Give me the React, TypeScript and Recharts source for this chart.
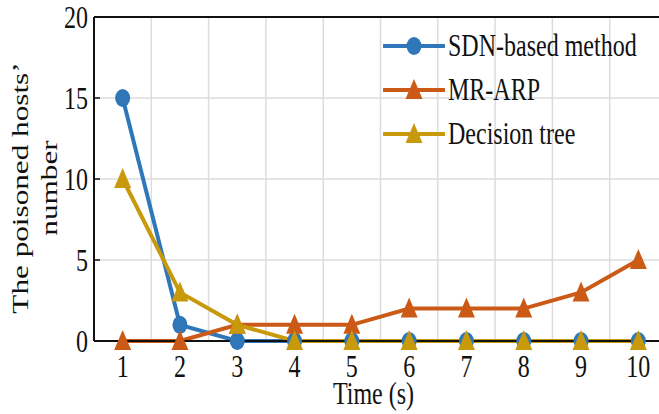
import React from 'react';
import {
  LineChart,
  Line,
  XAxis,
  YAxis,
  CartesianGrid,
  ReferenceLine,
} from 'recharts';

const times = [1, 2, 3, 4, 5, 6, 7, 8, 9, 10];
const sdnValues = [15, 1, 0, 0, 0, 0, 0, 0, 0, 0];
const mrArpValues = [0, 0, 1, 1, 1, 2, 2, 2, 3, 5];
const treeValues = [10, 3, 1, 0, 0, 0, 0, 0, 0, 0];
const yTicks = [0, 5, 10, 15, 20];
const gridXs = [1.5, 2.5, 3.5, 4.5, 5.5, 6.5, 7.5, 8.5, 9.5, 10.5];

const FONT = '"Liberation Serif", "DejaVu Serif", serif';
const STRETCH = 1.3;

const series = [
  { key: 'sdn', name: 'SDN-based method', color: '#2f77b8', marker: 'circle' },
  { key: 'mrarp', name: 'MR-ARP', color: '#cc5a17', marker: 'triangle' },
  { key: 'tree', name: 'Decision tree', color: '#c8990a', marker: 'triangle' },
];

const data = times.map((t, i) => ({
  time: t,
  sdn: sdnValues[i],
  mrarp: mrArpValues[i],
  tree: treeValues[i],
}));

const Marker = ({ cx, cy, color, kind }: any) => {
  if (cx == null || cy == null) return null;
  if (kind === 'circle') {
    return <ellipse cx={cx} cy={cy} rx={7.5} ry={9} fill={color} />;
  }
  return (
    <polygon
      points={`${cx},${cy - 11} ${cx - 8.5},${cy + 9} ${cx + 8.5},${cy + 9}`}
      fill={color}
    />
  );
};

const XTick = ({ x, y, payload }: any) => (
  <g transform={`translate(${x},${y + 36}) scale(1,${STRETCH})`}>
    <text x={0} y={0} textAnchor="middle" fontSize={24} fontFamily={FONT} fill="#111">
      {payload.value}
    </text>
  </g>
);

const YTick = ({ x, y, payload }: any) => (
  <g>
    <line x1={x} x2={x + 6} y1={y} y2={y} stroke="#111" strokeWidth={1.5} />
    <g transform={`translate(${x - 6},${y + 11}) scale(1,${STRETCH})`}>
      <text x={0} y={0} textAnchor="end" fontSize={24} fontFamily={FONT} fill="#111">
        {payload.value}
      </text>
    </g>
  </g>
);

const LegendBox = () => (
  <div style={{ position: 'absolute', left: 383, top: 24, fontFamily: FONT }}>
    {series.map((s) => (
      <div key={s.key} style={{ display: 'flex', alignItems: 'center', height: 44 }}>
        <svg width={62} height={30}>
          <line x1={1} x2={61} y1={15} y2={15} stroke={s.color} strokeWidth={4} strokeLinecap="round" />
          <Marker cx={31} cy={15} color={s.color} kind={s.marker} />
        </svg>
        <span
          style={{
            marginLeft: 3,
            fontSize: 24,
            color: '#111',
            display: 'inline-block',
            transform: `scaleY(${STRETCH})`,
            whiteSpace: 'nowrap',
          }}
        >
          {s.name}
        </span>
      </div>
    ))}
  </div>
);

export default function App() {
  return (
    <div
      style={{
        position: 'absolute',
        left: 0,
        top: 0,
        width: 659,
        height: 414,
        overflow: 'hidden',
        background: '#fff',
      }}
    >
      <LineChart
        width={680}
        height={414}
        data={data}
        margin={{ top: 17, right: 13, left: 0, bottom: 0 }}
      >
        <CartesianGrid vertical={false} stroke="#dcdcdc" strokeWidth={1.5} />
        {gridXs.map((gx) => (
          <ReferenceLine key={gx} x={gx} stroke="#dcdcdc" strokeWidth={1.5} />
        ))}
        <ReferenceLine y={20} stroke="#111" strokeWidth={2} />
        <XAxis
          dataKey="time"
          type="number"
          domain={[0.5, 10.5]}
          ticks={times}
          height={73}
          tickSize={0}
          tickMargin={0}
          tickLine={false}
          axisLine={{ stroke: '#111', strokeWidth: 2 }}
          tick={<XTick />}
          interval={0}
          label={({ viewBox }: any) => (
            <g transform={`translate(${viewBox.x + viewBox.width / 2 - 7},${viewBox.y + 63}) scale(1,${STRETCH})`}>
              <text x={0} y={0} textAnchor="middle" fontSize={24} fontFamily={FONT} fill="#111">
                Time (s)
              </text>
            </g>
          )}
        />
        <YAxis
          type="number"
          domain={[0, 20]}
          ticks={yTicks}
          width={94}
          tickSize={0}
          tickMargin={0}
          tickLine={false}
          axisLine={{ stroke: '#111', strokeWidth: 2 }}
          tick={<YTick />}
          interval={0}
          label={() => (
            <g>
              <g transform={`translate(28,188) scale(1,${STRETCH}) rotate(-90)`}>
                <text x={0} y={0} textAnchor="middle" fontSize={24} fontFamily={FONT} fill="#111">
                  The poisoned hosts’
                </text>
              </g>
              <g transform={`translate(57,188) scale(1,${STRETCH}) rotate(-90)`}>
                <text x={0} y={0} textAnchor="middle" fontSize={24} fontFamily={FONT} fill="#111">
                  number
                </text>
              </g>
            </g>
          )}
        />
        {series.map((s) => (
          <Line
            key={s.key}
            type="linear"
            dataKey={s.key}
            name={s.name}
            stroke={s.color}
            strokeWidth={4}
            isAnimationActive={false}
            dot={(p: any) => <Marker key={`${s.key}-${p.index}`} cx={p.cx} cy={p.cy} color={s.color} kind={s.marker} />}
            activeDot={false}
          />
        ))}
      </LineChart>
      <LegendBox />
    </div>
  );
}
